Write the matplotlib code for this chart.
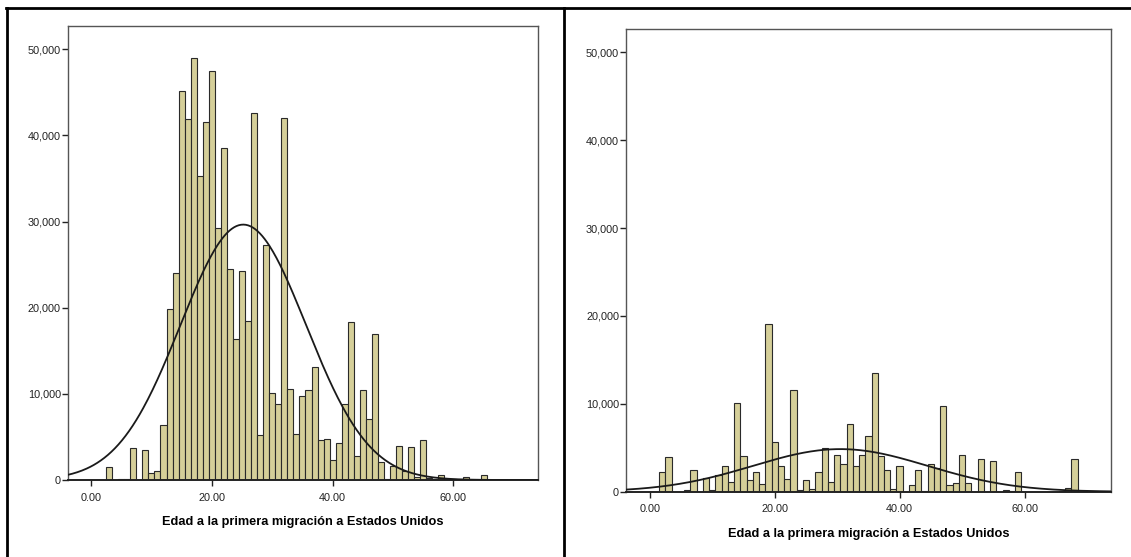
import numpy as np
import matplotlib.pyplot as plt
from matplotlib.lines import Line2D
from matplotlib.ticker import FuncFormatter

# ages (bin centres) and counts
ages_left = [3, 5, 6, 7, 9, 10, 11, 12, 13, 14, 15, 16, 17, 18, 19, 20, 21, 22, 23,
             24, 25, 26, 27, 28, 29, 30, 31, 32, 33, 34, 35, 36, 37, 38, 39, 40, 41,
             42, 43, 44, 45, 46, 47, 48, 49, 50, 51, 52, 53, 54, 55, 56, 57, 58, 60,
             62, 65]
counts_left = [1500, 150, 100, 3700, 3450, 850, 1050, 6400, 19800, 24000, 45100,
               41900, 49000, 35300, 41600, 47500, 29200, 38500, 24500, 16400, 24300,
               18500, 42600, 5200, 27300, 10100, 8800, 42000, 10600, 5300, 9700, 10400,
               13100, 4600, 4800, 2300, 4300, 8800, 18300, 2800, 10400, 7100, 17000,
               2100, 150, 1600, 4000, 1000, 3800, 300, 4600, 200, 100, 550, 100, 400,
               550]

ages_right = [2, 3, 6, 7, 9, 10, 11, 12, 13, 14, 15, 16, 17, 18, 19, 20, 21, 22, 23,
              24, 25, 26, 27, 28, 29, 30, 31, 32, 33, 34, 35, 36, 37, 38, 39, 40, 42,
              43, 44, 45, 46, 47, 48, 49, 50, 51, 53, 55, 57, 58, 59, 66, 67, 68]
counts_right = [2250, 4000, 250, 2500, 1600, 150, 1950, 2870, 1100, 10150, 4100, 1330,
                2240, 850, 19080, 5660, 2890, 1460, 11620, 150, 1290, 350, 2230, 4980,
                1050, 4180, 3180, 7740, 2980, 4150, 6360, 13540, 4100, 2430, 320, 2870,
                720, 2460, 100, 3140, 2650, 9700, 720, 950, 4170, 980, 3750, 3480, 190,
                50, 2200, 100, 420, 3750]

# fitted normal curves (mean, sd, peak height)
curve_left = (25.2, 10.4, 29650)
curve_right = (30.5, 14.0, 4850)

xlabel = 'Edad a la primera migración a Estados Unidos'
yticks = [0, 10000, 20000, 30000, 40000, 50000]
xticks = [0, 20, 40, 60]

bar_color = '#d5cf99'
plt.rcParams['font.family'] = ['Liberation Sans Narrow', 'Liberation Sans', 'DejaVu Sans']

fig = plt.figure(figsize=(11.31, 5.57), dpi=100)


def draw_panel(rect, ages, counts, curve, xlim, ylim, labelpad):
    ax = fig.add_axes(rect)
    ax.bar(ages, counts, width=1.0, color=bar_color, edgecolor='#2a2a2a',
           linewidth=0.8, zorder=2)
    xs = np.linspace(xlim[0], xlim[1], 400)
    mu, sd, peak = curve
    ax.plot(xs, peak * np.exp(-(xs - mu) ** 2 / (2 * sd ** 2)), color='#1a1a1a',
            lw=1.3, zorder=3)
    ax.set_xlim(*xlim)
    ax.set_ylim(*ylim)
    ax.set_yticks(yticks)
    ax.set_xticks(xticks)
    ax.yaxis.set_major_formatter(FuncFormatter(lambda v, p: f'{v:,.0f}'))
    ax.xaxis.set_major_formatter(FuncFormatter(lambda v, p: f'{v:.2f}'))
    ax.tick_params(direction='out', length=4, width=1, labelsize=7.8,
                   colors='#222222')
    ax.tick_params(axis='x', pad=5)
    ax.tick_params(axis='y', pad=1)
    for s in ax.spines.values():
        s.set_color('#555555')
        s.set_linewidth(1.0)
    ax.spines['bottom'].set_color('#222222')
    ax.spines['bottom'].set_linewidth(1.4)
    ax.set_xlabel(xlabel, fontsize=9.2, fontweight='bold', labelpad=labelpad)
    return ax


draw_panel([0.0599, 0.1382, 0.4161, 0.8151], ages_left, counts_left, curve_left,
           (-3.85, 74.05), (0, 52700), 10)
draw_panel([0.5535, 0.1172, 0.4286, 0.8307], ages_right, counts_right, curve_right,
           (-3.8, 73.8), (0, 52650), 10)

# table borders around the two charts
W, H = 1131, 557
def fig_line(x0, y0, x1, y1, lw=2.0):
    fig.add_artist(Line2D([x0 / W, x1 / W], [1 - y0 / H, 1 - y1 / H],
                          color='black', lw=lw, transform=fig.transFigure))

fig_line(6, 8, W, 8)
fig_line(7, 8, 7, H)
fig_line(564, 8, 564, H)

fig.savefig('out.png', dpi=100)
